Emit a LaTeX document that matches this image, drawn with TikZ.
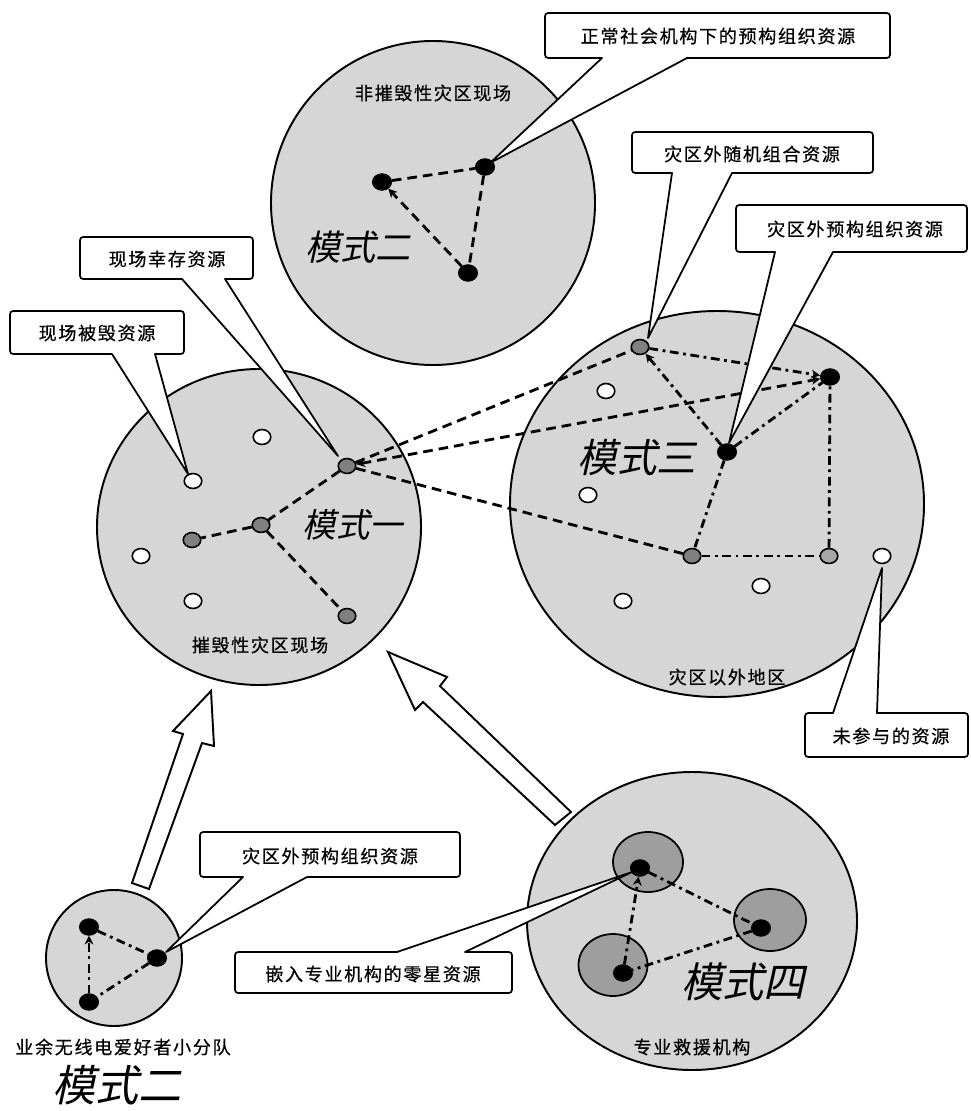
\documentclass[tikz,border=0pt]{standalone}
\usepackage{fontspec}
\newfontfamily\labfont[LetterSpace=9,FakeBold=0.5]{Noto Sans CJK SC}
\newfontfamily\modefont[FakeSlant=0.22]{Noto Sans CJK SC}
\usetikzlibrary{shapes.geometric,arrows.meta}
\tikzset{
  region/.style={fill=black!16, draw=black, line width=1.1pt},
  innerreg/.style={fill=black!38, draw=black, line width=1pt},
  wdot/.style={ellipse, draw=black, fill=white, line width=0.9pt, minimum width=10pt, minimum height=8.5pt, inner sep=0pt},
  gdot/.style={wdot, fill=black!50},
  bdot/.style={ellipse, fill=black, draw=black, minimum width=11pt, minimum height=9.5pt, inner sep=0pt},
  dline/.style={line width=1.6pt, dash pattern=on 5.5pt off 3.4pt},
  ddline/.style={line width=1.6pt, dash pattern=on 5pt off 2.6pt on 1.6pt off 2.6pt},
  arrowend/.style={-{Stealth[length=5pt,width=5pt]}},
  callout/.style={draw=black, fill=white, line width=1pt, line join=round},
  lab/.style={font=\fontsize{10.3}{12}\selectfont\labfont, inner sep=0pt},
  mode/.style={inner sep=0pt},
  blockarrow/.style={draw=black, fill=white, line width=1.1pt, line join=miter},
}
\newcommand\calloutdown[8]{%
\draw[callout] (#1+7,#2) -- (#3-7,#2) .. controls (#3,#2) .. (#3,#2+7) -- (#3,#4-7) .. controls (#3,#4) .. (#3-7,#4) -- (#6,#4) -- (#7,#8) -- (#5,#4) -- (#1+7,#4) .. controls (#1,#4) .. (#1,#4-7) -- (#1,#2+7) .. controls (#1,#2) .. (#1+7,#2) -- cycle;}
\newcommand\calloutup[8]{%
\draw[callout] (#1+7,#2) -- (#5,#2) -- (#7,#8) -- (#6,#2) -- (#3-7,#2) .. controls (#3,#2) .. (#3,#2+7) -- (#3,#4-7) .. controls (#3,#4) .. (#3-7,#4) -- (#1+7,#4) .. controls (#1,#4) .. (#1,#4-7) -- (#1,#2+7) .. controls (#1,#2) .. (#1+7,#2) -- cycle;}
\begin{document}
\begin{tikzpicture}[x=0.02cm,y=-0.02cm]
\useasboundingbox (0,0) rectangle (970,1111);
% regions
\draw[region] (433,203) circle [radius=162];
\draw[region] (259,527) ellipse [x radius=162, y radius=158];
\draw[region] (717,504) ellipse [x radius=207, y radius=193];
\draw[region] (114,958) circle [radius=68];
\draw[region] (692,921) ellipse [x radius=165, y radius=149];
\draw[innerreg] (648,862) ellipse [x radius=35, y radius=30];
\draw[innerreg] (770,920) ellipse [x radius=36, y radius=31];
\draw[innerreg] (613,965) ellipse [x radius=34.5, y radius=31];

% top circle dots
\node[bdot] (t1) at (382,182) {};
\node[bdot] (t2) at (485,167) {};
\node[bdot] (t3) at (468,273) {};
% left circle dots
\node[wdot] (lw1) at (262,437) {};
\node[wdot] (lw2) at (193,481) {};
\node[wdot] (lw3) at (141,556) {};
\node[wdot] (lw4) at (193,601) {};
\node[gdot] (lg1) at (347,466) {};
\node[gdot] (lg2) at (261,525) {};
\node[gdot] (lg3) at (192,540) {};
\node[gdot] (lg4) at (347,616) {};
% right circle dots
\node[gdot] (rg1) at (640,347) {};
\node[bdot] (rb1) at (830,377) {};
\node[bdot] (rb2) at (727,452) {};
\node[gdot] (rg2) at (692,556) {};
\node[gdot, fill=black!35] (rg3) at (829,556) {};
\node[wdot] (rw1) at (606,391) {};
\node[wdot] (rw2) at (588,495) {};
\node[wdot] (rw3) at (623,601) {};
\node[wdot] (rw4) at (761,586) {};
\node[wdot] (rw5) at (882,556) {};
% bottom-left dots
\node[bdot] (s1) at (89,927) {};
\node[bdot] (s2) at (157,958) {};
\node[bdot] (s3) at (89,1002) {};
% bottom-right dots
\node[bdot] (a) at (640,868) {};
\node[bdot] (b) at (761,928) {};
\node[bdot] (c) at (623,973) {};

% connectors
\draw[dline] (t1) -- (t2);
\draw[dline] (t2) -- (t3);
\draw[dline, arrowend] (t3) -- (t1);
\draw[dline] (lg1) -- (lg2);
\draw[dline] (lg2) -- (lg3);
\draw[dline] (lg2) -- (lg4);
\draw[dline] (lg1) -- (rg1);
\draw[dline, {Stealth[length=5pt,width=5pt]}-{Stealth[length=5pt,width=5pt]}] (lg1) -- (rb1);
\draw[dline] (lg1) -- (rg2);
\draw[ddline, arrowend] (rg1) -- (rb1);
\draw[ddline, arrowend] (rb2) -- (rg1);
\draw[ddline] (rb2) -- (rb1);
\draw[ddline] (rb2) -- (rg2);
\draw[ddline] (rg2) -- (rg3);
\draw[ddline] (rg3) -- (rb1);
\draw[ddline, arrowend] (s3) -- (s1);
\draw[ddline] (s1) -- (s2);
\draw[ddline] (s2) -- (s3);
\draw[ddline] (a) -- (b);
\draw[ddline] (b) -- (c);
\draw[ddline, arrowend] (c) -- (a);

% block arrows
\draw[blockarrow] (211,691) -- (214,746) -- (202,743) -- (149,889) -- (132,883) -- (183,734) -- (173,731) -- cycle;
\draw[blockarrow] (388,652) -- (447,677) -- (440,686) -- (571,812) -- (555,825) -- (423,702) -- (415,710) -- cycle;

% callouts
\calloutdown{545}{13}{890}{58}{602}{687}{490}{163}
\node[lab] (c1) at (718,36) {正常社会机构下的预构组织资源};
\calloutdown{632}{132}{873}{173}{672}{732}{648}{338}
\node[lab] (c2) at (752,154) {灾区外随机组合资源};
\calloutdown{736}{205}{967}{252}{775}{833}{729}{443}
\node[lab] (c3) at (855,229) {灾区外预构组织资源};
\calloutdown{80}{237}{253}{279}{182}{225}{338}{456}
\node[lab] (c4) at (167,259) {现场幸存资源};
\calloutdown{10}{311}{184}{354}{112}{155}{188}{474}
\node[lab] (c5) at (97,333) {现场被毁资源};
\calloutup{805}{713}{968}{757}{833}{877}{882}{568}
\node[lab] (c6) at (891,736) {未参与的资源};
\calloutdown{200}{832}{460}{877}{243}{307}{166}{952}
\node[lab] (c7) at (330,856) {灾区外预构组织资源};
\calloutup{235}{952}{512}{993}{397}{465}{632}{872}
\node[lab] (c8) at (373,974) {嵌入专业机构的零星资源};

% region labels
\node[lab] (n1) at (433,93) {非摧毁性灾区现场};
\node[lab] (n2) at (260,645) {摧毁性灾区现场};
\node[lab] (n3) at (727,677) {灾区以外地区};
\node[lab] (n4) at (123,1047) {业余无线电爱好者小分队};
\node[lab] (n5) at (692,1047) {专业救援机构};
% mode labels
\node[mode, font=\fontsize{20}{24}\selectfont\modefont] (m2a) at (358,247) {模式二};
\node[mode, font=\fontsize{19}{23}\selectfont\modefont] (m1) at (353,525) {模式一};
\node[mode, font=\fontsize{22.5}{27}\selectfont\modefont] (m3) at (637,458) {模式三};
\node[mode, font=\fontsize{23.5}{28}\selectfont\modefont] (m4) at (743,982) {模式四};
\node[mode, font=\fontsize{24.5}{29}\selectfont\modefont] (m2b) at (117,1085) {模式二};
\end{tikzpicture}
\end{document}
